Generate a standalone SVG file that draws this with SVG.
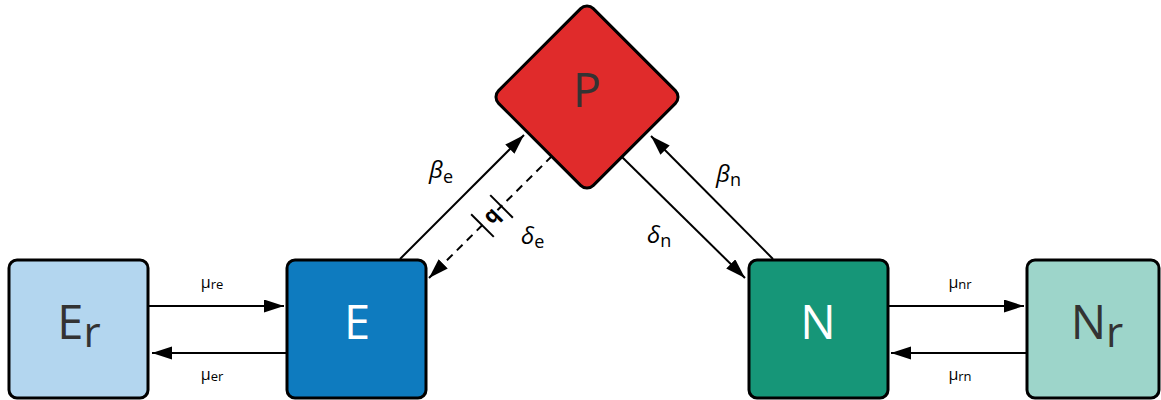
<svg xmlns="http://www.w3.org/2000/svg" width="1161" height="400" viewBox="0 0 1161 400">
<style>
.box{stroke:#000;stroke-width:3}
.big{font-family:"Open Sans","Liberation Sans",sans-serif;font-size:47px;text-anchor:middle}
.dark{fill:#333}
.light{fill:#fff}
.lbl{font-family:"Open Sans","Liberation Sans",sans-serif;font-size:16px;fill:#000;text-anchor:middle}
.gr{font-family:"Open Sans","Liberation Sans",sans-serif;font-size:24px;font-style:italic;fill:#000}
.sub{font-style:normal;font-size:18px}
.ln{stroke:#000;stroke-width:2;fill:none}
.dash{stroke-dasharray:8 6}
</style>
<defs>
<marker id="ah" markerUnits="userSpaceOnUse" markerWidth="21" markerHeight="14" refX="20" refY="6.5" orient="auto">
<path d="M0,0 L20,6.5 L0,13 z" fill="#000"/>
</marker>
</defs>
<rect width="1161" height="400" fill="#fff"/>
<g id="connectors">
<line class="ln" x1="149" y1="306" x2="284" y2="306" marker-end="url(#ah)"/>
<line class="ln" x1="287" y1="353" x2="152" y2="353" marker-end="url(#ah)"/>
<line class="ln" x1="888" y1="306" x2="1024" y2="306" marker-end="url(#ah)"/>
<line class="ln" x1="1027" y1="353" x2="891" y2="353" marker-end="url(#ah)"/>
<line class="ln" x1="400" y1="259" x2="524" y2="135" marker-end="url(#ah)"/>
<line class="ln dash" x1="552" y1="156" x2="429" y2="278" marker-end="url(#ah)"/>
<line class="ln" x1="622" y1="157" x2="745" y2="278" marker-end="url(#ah)"/>
<line class="ln" x1="773" y1="259" x2="651" y2="136" marker-end="url(#ah)"/>
<g transform="translate(492,216) rotate(-45)">
<rect x="-8" y="-10" width="16" height="20" fill="#fff"/>
<line class="ln" x1="-13.5" y1="-16" x2="-13.5" y2="16"/>
<line class="ln" x1="13.5" y1="-16" x2="13.5" y2="16"/>
<text x="0" y="6" font-family="'Open Sans','Liberation Sans',sans-serif" font-size="21" font-weight="bold" text-anchor="middle" fill="#000">q</text>
</g>
<text class="lbl" x="212" y="288">μ<tspan font-size="13" dy="1">re</tspan></text>
<text class="lbl" x="212" y="380">μ<tspan font-size="13" dy="1">er</tspan></text>
<text class="lbl" x="960" y="288">μ<tspan font-size="13" dy="1">nr</tspan></text>
<text class="lbl" x="960" y="380">μ<tspan font-size="13" dy="1">rn</tspan></text>
<text class="gr" x="429" y="178">β<tspan class="sub" dy="5">e</tspan></text>
<text class="gr" x="521" y="244">δ<tspan class="sub" dy="4">e</tspan></text>
<text class="gr" x="716" y="182">β<tspan class="sub" dy="4">n</tspan></text>
<text class="gr" x="647" y="243">δ<tspan class="sub" dy="4">n</tspan></text>
</g>
<g id="Er">
<rect class="box" x="9" y="260" width="139" height="138" rx="8" fill="#b3d6ef"/>
<text class="big dark" x="79" y="339">E<tspan font-size="42" dy="8">r</tspan></text>
</g>
<g id="E">
<rect class="box" x="287" y="260" width="139" height="138" rx="8" fill="#0e7bbf"/>
<text class="big light" x="357" y="339">E</text>
</g>
<g id="P">
<rect class="box" x="-67" y="-67" width="134" height="134" rx="9" fill="#e02b2b" transform="translate(587,97) rotate(45)"/>
<text class="big dark" x="587" y="107">P</text>
</g>
<g id="N">
<rect class="box" x="749" y="260" width="139" height="138" rx="8" fill="#169678"/>
<text class="big light" x="818" y="339">N</text>
</g>
<g id="Nr">
<rect class="box" x="1027" y="260" width="132" height="138" rx="8" fill="#9dd5ca"/>
<text class="big dark" x="1097" y="339">N<tspan font-size="42" dy="8">r</tspan></text>
</g>
</svg>
